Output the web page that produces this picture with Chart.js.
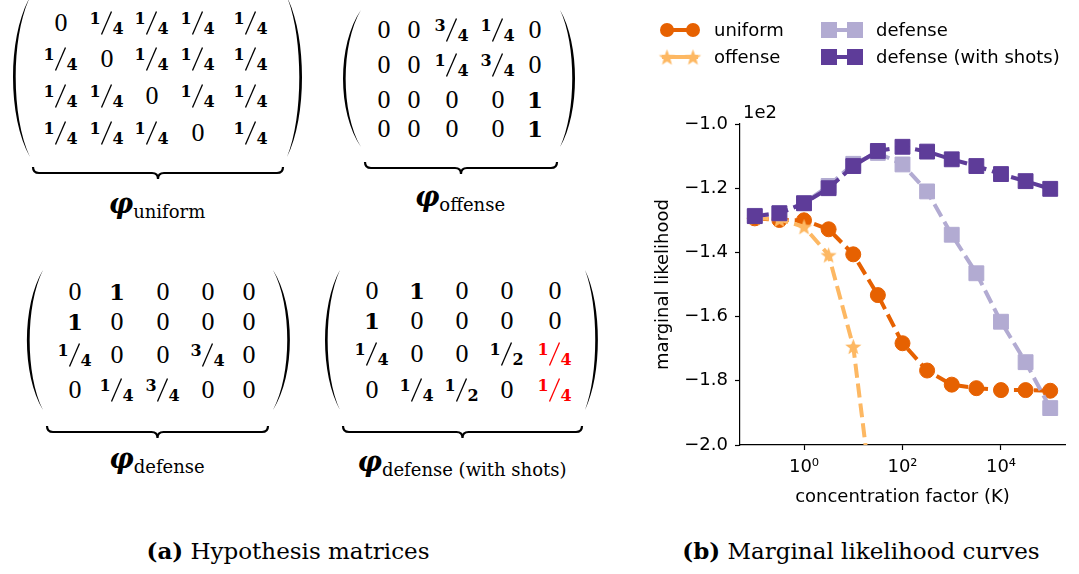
<!DOCTYPE html>
<html>
<head>
<meta charset="utf-8">
<script src="https://cdn.jsdelivr.net/npm/chart.js@4.4.1/dist/chart.umd.min.js"></script>
<style>
body{margin:0;background:#fff;width:1079px;height:574px;overflow:hidden;position:relative;font-family:"DejaVu Serif",serif;color:#000}
#left{position:absolute;left:0;top:0;width:640px;height:520px}
#marks{position:absolute;left:0;top:0}
.e{position:absolute;transform:translate(-50%,-50%);font-family:"Liberation Serif",serif;font-size:26px;line-height:1;white-space:nowrap}
.b{font-family:"DejaVu Serif",serif;font-weight:bold;font-size:23px}
.fr{width:35px;height:24px}
.fr span{position:absolute;font-family:"DejaVu Serif",serif;font-weight:bold;font-size:16px;line-height:1}
.fr .n{left:0;top:0}
.fr .d{left:23px;top:10px}
.fr svg{position:absolute;left:11px;top:0}
.red{color:#f00}
.lab{position:absolute;transform:translate(-50%,-50%);white-space:nowrap;line-height:1}
.phi{font-weight:bold;font-style:italic;font-size:27px}
.sub{font-size:18px;position:relative;top:5px}
.cap{position:absolute;top:539px;font-size:23px;white-space:nowrap;transform:translateX(-50%);line-height:1}
#wrap{position:absolute;left:640px;top:0;width:439px;height:520px}
</style>
</head>
<body>
<div id="left"><svg id="marks" width="640" height="520"></svg></div>
<div class="cap" style="left:288px"><b>(a)</b> Hypothesis matrices</div>
<div class="cap" style="left:861px"><b>(b)</b> Marginal likelihood curves</div>
<div id="wrap"><canvas id="myChart" width="439" height="520"></canvas></div>
<script>
// ---- hypothesis matrices ('*' = red entry)
const phiUniform = [
  ['0', '1/4', '1/4', '1/4', '1/4'],
  ['1/4', '0', '1/4', '1/4', '1/4'],
  ['1/4', '1/4', '0', '1/4', '1/4'],
  ['1/4', '1/4', '1/4', '0', '1/4']
];
const phiOffense = [
  ['0', '0', '3/4', '1/4', '0'],
  ['0', '0', '1/4', '3/4', '0'],
  ['0', '0', '0', '0', '1'],
  ['0', '0', '0', '0', '1']
];
const phiDefense = [
  ['0', '1', '0', '0', '0'],
  ['1', '0', '0', '0', '0'],
  ['1/4', '0', '0', '3/4', '0'],
  ['0', '1/4', '3/4', '0', '0']
];
const phiShots = [
  ['0', '1', '0', '0', '0'],
  ['1', '0', '0', '0', '0'],
  ['1/4', '0', '0', '1/2', '*1/4'],
  ['0', '1/4', '1/2', '0', '*1/4']
];

// ---- marginal likelihood curves
const concentration = [0.1, 0.316, 1, 3.16, 10, 31.6, 100, 316, 1000, 3162, 10000, 31623, 100000];
const uniform = [-129.4, -129.9, -130.0, -132.8, -140.6, -153.3, -168.3, -176.8, -181.2, -182.3, -182.9, -182.9, -183.1];
const offense = [-129.2, -129.7, -132.0, -140.8, -169.3, -231];
const defense = [-128.6, -127.8, -124.6, -119.3, -112.4, -109.0, -112.6, -121.0, -134.5, -146.5, -161.6, -174.2, -188.5];
const defenseShots = [-128.7, -127.8, -124.7, -120.0, -113.1, -108.4, -107.1, -108.6, -111.0, -113.1, -115.6, -117.8, -120.2];
const xTickValues = [1, 100, 10000];

// layout of the left panel
const panels = [
  {m: phiUniform, cols: [61, 107, 152, 198, 251], rows: [23, 59, 96, 133], lp: [13, 30], rp: [287, 302], py: [-3, 157],
   brace: [33, 283, 167], lab: [157, 203], sub: 'uniform'},
  {m: phiOffense, cols: [384, 414, 452, 498, 535], rows: [30, 65, 100, 129], lp: [343, 361], rp: [560, 575], py: [10, 147],
   brace: [365, 557, 162], lab: [460, 196], sub: 'offense'},
  {m: phiDefense, cols: [75, 117, 163, 208, 249], rows: [292, 322, 355, 390], lp: [27, 43], rp: [273, 290], py: [270, 410],
   brace: [47, 268, 426], lab: [157, 458], sub: 'defense'},
  {m: phiShots, cols: [372, 417, 462, 507, 555], rows: [291, 321, 354, 390], lp: [325, 340], rp: [585, 598], py: [270, 410],
   brace: [343, 582, 426], lab: [462, 461], sub: 'defense (with shots)'}
];

const left = document.getElementById('left');
const svg = document.getElementById('marks');
let paths = '';

function makeEntry(t) {
  const d = document.createElement('div');
  d.className = 'e';
  if (t[0] === '*') { d.classList.add('red'); t = t.slice(1); }
  if (t.includes('/')) {
    const [n, dn] = t.split('/');
    d.classList.add('fr');
    d.innerHTML = '<span class="n">' + n + '</span>' +
      '<svg width="12" height="24"><line x1="11" y1="0.5" x2="1" y2="23.5" stroke="currentColor" stroke-width="1.3"/></svg>' +
      '<span class="d">' + dn + '</span>';
  } else if (t === '0') {
    d.textContent = t;
  } else {
    d.innerHTML = '<span class="b">' + t + '</span>';
  }
  return d;
}

function paren(x0, x1, yt, yb, dir) {
  // x0 = tip x, x1 = bulge x
  const H = yb - yt, c = x0 + (x1 - x0) / 0.75, t = 3.6 * dir;
  return 'M' + x0 + ' ' + yt + ' C' + c + ' ' + (yt + H * 0.25) + ' ' + c + ' ' + (yb - H * 0.25) + ' ' + x0 + ' ' + yb +
    ' C' + (c - t) + ' ' + (yb - H * 0.25) + ' ' + (c - t) + ' ' + (yt + H * 0.25) + ' ' + x0 + ' ' + yt + 'Z';
}

panels.forEach(p => {
  p.m.forEach((row, i) => row.forEach((v, j) => {
    const d = makeEntry(v);
    d.style.left = p.cols[j] + 'px';
    d.style.top = p.rows[i] + 'px';
    left.appendChild(d);
  }));
  paths += '<path d="' + paren(p.lp[1], p.lp[0], p.py[0], p.py[1], -1) + '" fill="#000"/>';
  paths += '<path d="' + paren(p.rp[0], p.rp[1], p.py[0], p.py[1], 1) + '" fill="#000"/>';
  const [b0, b1, by] = p.brace, bm = (b0 + b1) / 2, r = 6, h = 12;
  paths += '<path d="M' + b0 + ' ' + by + ' Q' + b0 + ' ' + (by + h / 2) + ' ' + (b0 + r) + ' ' + (by + h / 2) +
    ' L' + (bm - r) + ' ' + (by + h / 2) + ' Q' + bm + ' ' + (by + h / 2) + ' ' + bm + ' ' + (by + h) +
    ' Q' + bm + ' ' + (by + h / 2) + ' ' + (bm + r) + ' ' + (by + h / 2) +
    ' L' + (b1 - r) + ' ' + (by + h / 2) + ' Q' + b1 + ' ' + (by + h / 2) + ' ' + b1 + ' ' + by +
    '" fill="none" stroke="#000" stroke-width="2.2"/>';
  const l = document.createElement('div');
  l.className = 'lab';
  l.style.left = p.lab[0] + 'px';
  l.style.top = p.lab[1] + 'px';
  l.innerHTML = '<span class="phi">φ</span><span class="sub">' + p.sub + '</span>';
  left.appendChild(l);
});
svg.innerHTML = paths;

// ---- chart
function starImg(color, r) {
  const c = document.createElement('canvas');
  const s = Math.ceil(r * 2 + 2);
  c.width = c.height = s;
  const g = c.getContext('2d');
  g.fillStyle = color;
  g.beginPath();
  for (let i = 0; i < 10; i++) {
    const rr = i % 2 ? r * 0.42 : r;
    const a = -Math.PI / 2 + i * Math.PI / 5;
    g.lineTo(s / 2 + rr * Math.cos(a), s / 2 + rr * Math.sin(a) + r * 0.1);
  }
  g.closePath();
  g.fill();
  return c;
}

const pts = ys => ys.map((y, i) => ({x: concentration[i], y: y}));
const sup = {'0': '⁰', '1': '¹', '2': '²', '3': '³', '4': '⁴', '5': '⁵', '-': '⁻'};
const star = starImg('#fdb863', 8.5);

function series(label, ys, color, style, radius, order) {
  return {
    label: label, data: pts(ys), borderColor: color, backgroundColor: color,
    borderWidth: 4, borderDash: [14, 6], pointStyle: style, pointRadius: radius,
    pointBorderWidth: 1, pointBorderColor: color, pointBackgroundColor: color, order: order
  };
}

const datasets = [
  series('uniform', uniform, '#e66101', 'circle', 7.5, 4),
  series('offense', offense, '#fdb863', star, 8, 3),
  series('defense', defense, '#b2abd2', 'rect', 10.5, 2),
  series('defense (with shots)', defenseShots, '#5e3c99', 'rect', 10.5, 1)
];

const legendSlots = [[20, 30], [20, 57], [182, 30], [182, 57]];

function drawMarker(ctx, ds, x, y) {
  ctx.fillStyle = ds.borderColor;
  if (ds.pointStyle === 'circle') {
    ctx.beginPath(); ctx.arc(x, y, 7, 0, Math.PI * 2); ctx.fill();
  } else if (ds.pointStyle === 'rect') {
    ctx.fillRect(x - 8, y - 8, 16, 16);
  } else {
    ctx.drawImage(ds.pointStyle, x - ds.pointStyle.width / 2, y - ds.pointStyle.height / 2);
  }
}

const extras = {
  id: 'extras',
  afterDraw(chart) {
    const ctx = chart.ctx, a = chart.chartArea;
    ctx.save();
    ctx.font = '18px "DejaVu Sans"';
    ctx.fillStyle = '#000';
    ctx.textBaseline = 'middle';
    ctx.textAlign = 'left';
    ctx.fillText('1e2', a.left + 3, a.top - 11);
    chart.data.datasets.forEach((ds, i) => {
      const [x, y] = legendSlots[i];
      ctx.strokeStyle = ds.borderColor;
      ctx.lineWidth = 4;
      ctx.beginPath(); ctx.moveTo(x + 2, y); ctx.lineTo(x + 38, y); ctx.stroke();
      drawMarker(ctx, ds, x + 7, y);
      drawMarker(ctx, ds, x + 33, y);
      ctx.fillStyle = '#000';
      ctx.fillText(ds.label, x + 54, y + 1);
    });
    ctx.restore();
  }
};

Chart.defaults.font.family = '"DejaVu Sans"';
Chart.defaults.font.size = 18;
Chart.defaults.color = '#000';

new Chart(document.getElementById('myChart'), {
  type: 'line',
  data: {datasets: datasets},
  plugins: [extras],
  options: {
    responsive: false,
    animation: false,
    layout: {padding: {top: 124, right: 14, left: 0, bottom: 0}},
    plugins: {legend: {display: false}, tooltip: {enabled: false}},
    scales: {
      x: {
        type: 'logarithmic',
        min: Math.pow(10, -1.3),
        max: Math.pow(10, 5.3),
        afterBuildTicks: s => { s.ticks = xTickValues.map(v => ({value: v})); },
        afterFit: s => { s.height = 75; },
        grid: {drawOnChartArea: false, tickLength: 5, color: '#000', tickColor: '#000', tickWidth: 1.2},
        border: {color: '#000', width: 1.2},
        ticks: {
          padding: 7, autoSkip: false, maxRotation: 0,
          callback: v => '10' + String(Math.round(Math.log10(v))).split('').map(c => sup[c]).join('')
        },
        title: {display: true, text: 'concentration factor (K)', padding: {top: 0, bottom: 12}}
      },
      y: {
        min: -200,
        max: -100,
        afterFit: s => { s.width = 100; },
        grid: {drawOnChartArea: false, tickLength: 5, color: '#000', tickColor: '#000', tickWidth: 1.2},
        border: {color: '#000', width: 1.2},
        ticks: {
          stepSize: 20, padding: 7,
          callback: v => (v / 100).toFixed(1).replace('-', '\u2212')
        },
        title: {display: true, text: 'marginal likelihood', padding: {top: 13, bottom: 0}}
      }
    }
  }
});
</script>
</body>
</html>
